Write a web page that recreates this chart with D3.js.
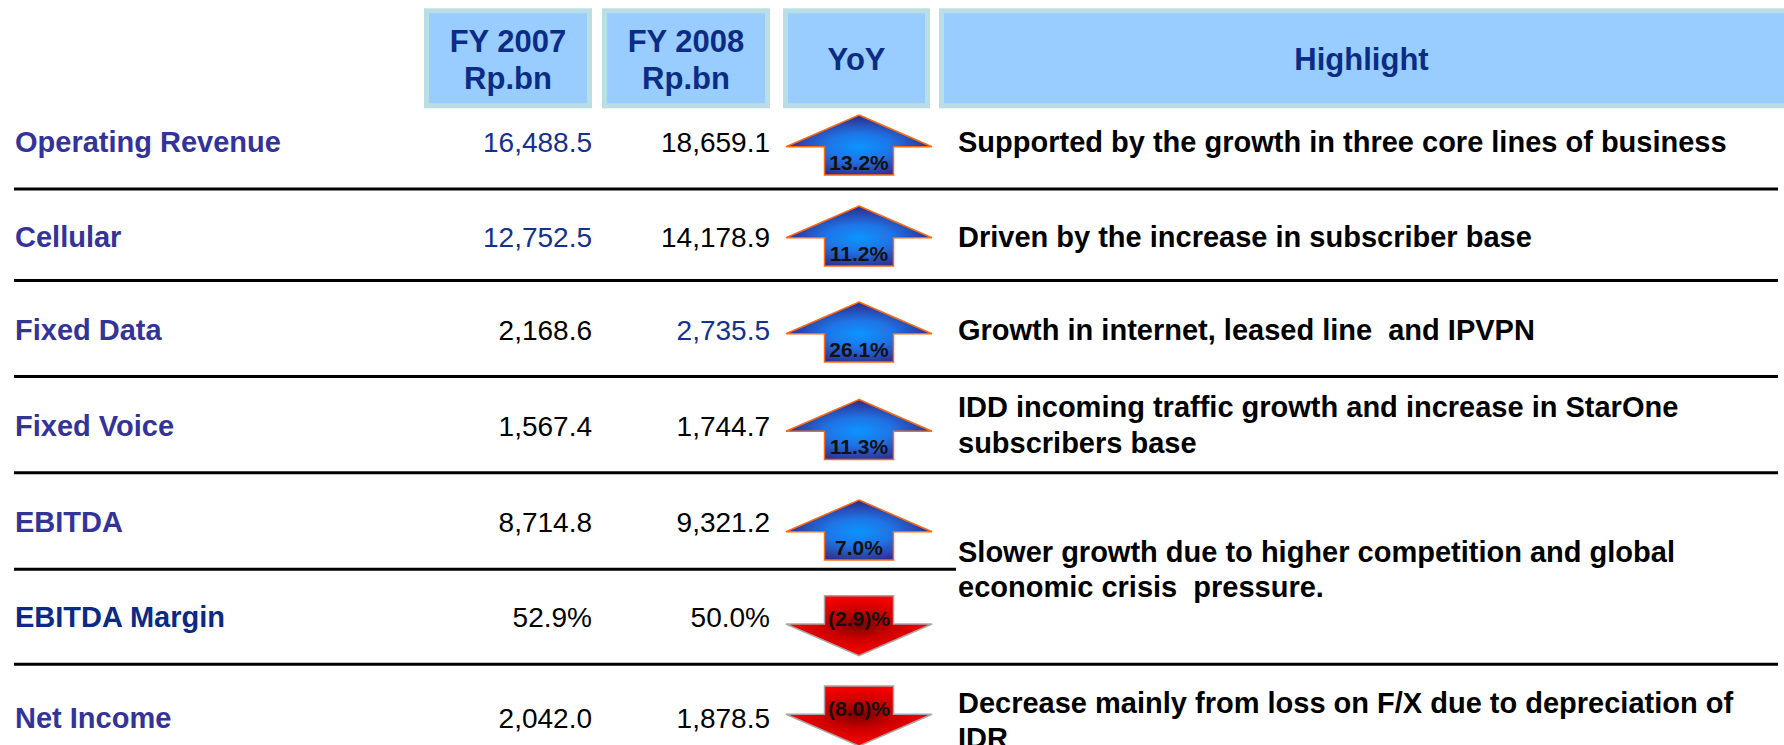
<!DOCTYPE html>
<html>
<head>
<meta charset="utf-8">
<script src="https://cdn.jsdelivr.net/npm/d3@7"></script>
<style>
  html, body { margin: 0; padding: 0; background: #ffffff; }
  svg { display: block; }
  text { font-family: "Liberation Sans", Arial, Helvetica, sans-serif; white-space: pre; }
</style>
</head>
<body>
<svg id="chart" width="1784" height="745"></svg>
<script>
// ---------------- data ----------------
const categories = ["Operating Revenue", "Cellular", "Fixed Data", "Fixed Voice", "EBITDA", "EBITDA Margin", "Net Income"];
const fy2007 = [16488.5, 12752.5, 2168.6, 1567.4, 8714.8, 52.9, 2042.0];
const fy2008 = [18659.1, 14178.9, 2735.5, 1744.7, 9321.2, 50.0, 1878.5];
const yoy = [13.2, 11.2, 26.1, 11.3, 7.0, -2.9, -8.0];
const isPercent = [false, false, false, false, false, true, false];
const headers = [["FY 2007", "Rp.bn"], ["FY 2008", "Rp.bn"], ["YoY"], ["Highlight"]];
const highlightRows = [[0], [1], [2], [3], [4, 5], [6]];
const highlightText = [
  ["Supported by the growth in three core lines of business"],
  ["Driven by the increase in subscriber base"],
  ["Growth in internet, leased line  and IPVPN"],
  ["IDD incoming traffic growth and increase in StarOne", "subscribers base"],
  ["Slower growth due to higher competition and global", "economic crisis  pressure."],
  ["Decrease mainly from loss on F/X due to depreciation of", "IDR"]
];

// ---------------- layout / style ----------------
const W = 1784, H = 745;
const svg = d3.select("#chart");
const FONT = '"Liberation Sans", Arial, Helvetica, sans-serif';

// row baselines (ordinal scale over categories)
const yRow = d3.scaleOrdinal().domain(categories).range([152, 247, 340, 435.5, 532, 627, 728]);
// arrow anchor: tip (up arrows) or shaft top (down arrows)
const yArrow = d3.scaleOrdinal().domain(categories).range([115, 206, 302, 399.5, 500, 595.7, 686]);
// separators below each row (except last)
const sepY = [189, 280.5, 376.5, 472.7, 569.3, 664.3];
const sepEnd = [1778, 1778, 1778, 1778, 956, 1778];
// highlight line baselines
const hlBase = [[152], [247], [340], [417, 453], [562, 597], [713, 748]];

// column scale
const colNames = ["fy2007", "fy2008", "yoy", "highlight"];
const colLeft = d3.scaleOrdinal().domain(colNames).range([424, 602, 783, 939]);
const colRight = d3.scaleOrdinal().domain(colNames).range([592, 770, 930, 1792]);

const labelColor = d => d === "EBITDA Margin" ? "#0a2a86" : "#333399";
const blue2007 = [true, true, false, false, false, false, false];
const blue2008 = [false, false, true, false, false, false, false];
const valBlue = "#13328f";

const fmt = d3.format(",.1f");
const fmtVal = (v, i) => isPercent[i] ? d3.format(".1f")(v) + "%" : fmt(v);
const fmtYoy = v => v >= 0 ? d3.format(".1f")(v) + "%" : "(" + d3.format(".1f")(Math.abs(v)) + ")%";

// ---------------- defs (gradients) ----------------
const defs = svg.append("defs");
const gUp = defs.append("radialGradient").attr("id", "gradUp")
  .attr("cx", 0.5).attr("cy", 0.53).attr("r", 0.5);
gUp.append("stop").attr("offset", "0%").attr("stop-color", "#0b95ff");
gUp.append("stop").attr("offset", "45%").attr("stop-color", "#1f74e6");
gUp.append("stop").attr("offset", "100%").attr("stop-color", "#2e2f8f");
const gDn = defs.append("radialGradient").attr("id", "gradDn")
  .attr("cx", 0.5).attr("cy", 0.48).attr("r", 0.5);
gDn.append("stop").attr("offset", "0%").attr("stop-color", "#7a0000");
gDn.append("stop").attr("offset", "45%").attr("stop-color", "#c80000");
gDn.append("stop").attr("offset", "100%").attr("stop-color", "#ff0000");

// ---------------- header boxes ----------------
const boxTop = 8.3, boxBot = 108.3, bw = 5;
const hdr = svg.append("g").selectAll("g").data(colNames).join("g");
hdr.append("rect")
  .attr("x", d => colLeft(d)).attr("y", boxTop)
  .attr("width", d => colRight(d) - colLeft(d)).attr("height", boxBot - boxTop)
  .attr("fill", "#b9dee3");
hdr.append("rect")
  .attr("x", d => colLeft(d) + bw).attr("y", boxTop + bw)
  .attr("width", d => colRight(d) - colLeft(d) - 2 * bw).attr("height", boxBot - boxTop - 2 * bw)
  .attr("fill", "#99ccff");
hdr.each(function(d, i) {
  const lines = headers[i];
  const cx = d === "highlight" ? (colLeft(d) + 1784) / 2 : (colLeft(d) + colRight(d)) / 2;
  const base = lines.length === 2 ? [52, 89.3] : [70];
  d3.select(this).selectAll("text").data(lines).join("text")
    .attr("x", cx).attr("y", (t, j) => base[j])
    .attr("text-anchor", "middle")
    .attr("font-size", 31).attr("font-weight", "bold")
    .attr("fill", "#0b2c84")
    .text(t => t);
});

// ---------------- separators ----------------
svg.append("g").selectAll("line").data(sepY).join("line")
  .attr("x1", 14).attr("x2", (d, i) => sepEnd[i])
  .attr("y1", d => d).attr("y2", d => d)
  .attr("stroke", "#000").attr("stroke-width", 3);

// ---------------- row labels & values ----------------
const rows = svg.append("g").selectAll("g").data(categories).join("g");
rows.append("text")
  .attr("x", 15).attr("y", d => yRow(d))
  .attr("font-size", 29).attr("font-weight", "bold")
  .attr("fill", d => labelColor(d))
  .text(d => d);
rows.append("text")
  .attr("x", colRight("fy2007")).attr("y", d => yRow(d))
  .attr("text-anchor", "end").attr("font-size", 28)
  .attr("fill", (d, i) => blue2007[i] ? valBlue : "#000")
  .text((d, i) => fmtVal(fy2007[i], i));
rows.append("text")
  .attr("x", colRight("fy2008")).attr("y", d => yRow(d))
  .attr("text-anchor", "end").attr("font-size", 28)
  .attr("fill", (d, i) => blue2008[i] ? valBlue : "#000")
  .text((d, i) => fmtVal(fy2008[i], i));

// ---------------- arrows ----------------
const aCx = 859, headHalf = 73, shaftHalf = 34.5, headH = 31.7, shaftH = 28.3;
function upPath(top) {
  const p = d3.path();
  p.moveTo(aCx, top);
  p.lineTo(aCx + headHalf, top + headH);
  p.lineTo(aCx + shaftHalf, top + headH);
  p.lineTo(aCx + shaftHalf, top + headH + shaftH);
  p.lineTo(aCx - shaftHalf, top + headH + shaftH);
  p.lineTo(aCx - shaftHalf, top + headH);
  p.lineTo(aCx - headHalf, top + headH);
  p.closePath();
  return p.toString();
}
function downPath(top) {
  const p = d3.path();
  p.moveTo(aCx - shaftHalf, top);
  p.lineTo(aCx + shaftHalf, top);
  p.lineTo(aCx + shaftHalf, top + shaftH);
  p.lineTo(aCx + headHalf, top + shaftH);
  p.lineTo(aCx, top + shaftH + headH);
  p.lineTo(aCx - headHalf, top + shaftH);
  p.lineTo(aCx - shaftHalf, top + shaftH);
  p.closePath();
  return p.toString();
}
const arrows = svg.append("g").selectAll("g").data(categories).join("g");
arrows.append("path")
  .attr("d", (d, i) => yoy[i] >= 0 ? upPath(yArrow(d)) : downPath(yArrow(d)))
  .attr("fill", (d, i) => yoy[i] >= 0 ? "url(#gradUp)" : "url(#gradDn)")
  .attr("stroke", (d, i) => yoy[i] >= 0 ? "#ff6a10" : "#a6a6a6")
  .attr("stroke-width", 1.5)
  .attr("stroke-linejoin", "miter");
arrows.append("text")
  .attr("x", aCx)
  .attr("y", (d, i) => yoy[i] >= 0 ? yArrow(d) + headH + shaftH - 5.5 : yArrow(d) + shaftH + 1.5)
  .attr("text-anchor", "middle")
  .attr("font-size", 21).attr("font-weight", "bold")
  .attr("fill", "#111")
  .text((d, i) => fmtYoy(yoy[i]));

// ---------------- highlights ----------------
const hl = svg.append("g").selectAll("g").data(highlightText).join("g");
hl.each(function(lines, k) {
  d3.select(this).selectAll("text").data(lines).join("text")
    .attr("x", 958).attr("y", (t, j) => hlBase[k][j])
    .attr("font-size", 29).attr("font-weight", "bold")
    .attr("fill", "#000")
    .text(t => t);
});
</script>
</body>
</html>
